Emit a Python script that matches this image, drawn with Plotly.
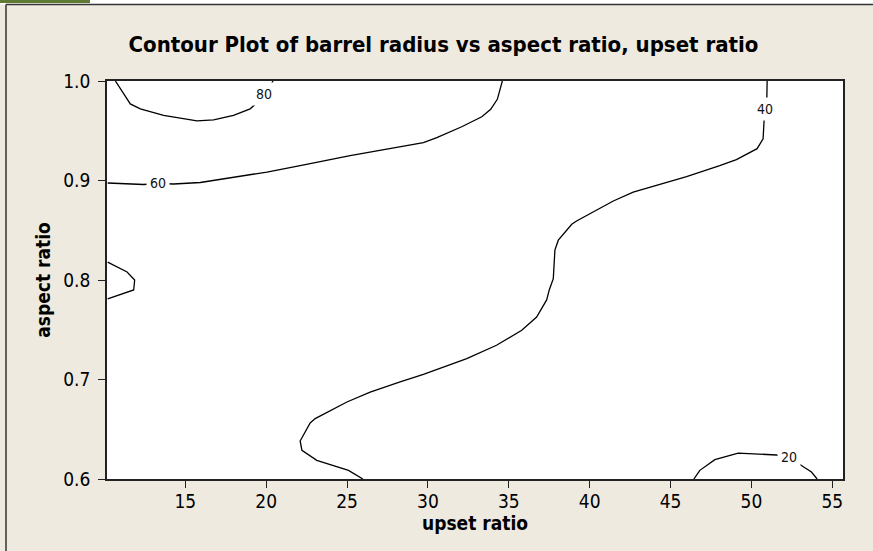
import plotly.graph_objects as go

# contour lines (upset ratio, aspect ratio)
c80_x = [10.68, 11.60, 12.22, 13.66, 15.72, 16.75, 17.98, 19.01, 19.43, 19.84, 20.29, 20.42]
c80_y = [1.000, 0.977, 0.972, 0.9655, 0.960, 0.961, 0.9655, 0.972, 0.978, 0.987, 0.9957, 1.000]

c60_x = [10.20, 12.42, 13.30, 14.28, 15.93, 17.98, 20.05, 22.10, 25.19, 29.72, 30.55, 32.09, 33.33, 33.88, 34.29, 34.60]
c60_y = [0.8975, 0.896, 0.897, 0.8965, 0.898, 0.903, 0.9085, 0.915, 0.925, 0.938, 0.943, 0.954, 0.964, 0.9716, 0.9816, 1.000]

c60b_x = [10.20, 11.40, 11.87, 11.81, 10.20]
c60b_y = [0.818, 0.808, 0.800, 0.790, 0.781]

c40_x = [50.97, 50.95, 50.82, 50.78, 50.72, 50.35, 49.07, 48.04, 45.99, 42.69, 41.46, 39.19, 38.89,
         38.06, 37.85, 37.75, 37.50, 37.34, 36.72, 35.80, 34.24, 32.40, 30.34, 29.72, 28.28, 26.43,
         24.99, 23.03, 22.72, 22.10, 22.21, 23.13, 25.09, 25.98]
c40_y = [1.000, 0.9806, 0.9715, 0.963, 0.942, 0.932, 0.921, 0.915, 0.904, 0.8884, 0.8794, 0.8593, 0.856,
         0.840, 0.830, 0.8014, 0.790, 0.780, 0.7628, 0.7495, 0.7344, 0.721, 0.7083, 0.7052, 0.6975, 0.6874,
         0.6774, 0.6607, 0.6563, 0.6382, 0.6289, 0.6188, 0.6087, 0.600]

c20_x = [46.44, 46.81, 47.74, 49.18, 51.55, 52.33, 53.23, 53.71, 54.06]
c20_y = [0.600, 0.6087, 0.6195, 0.6261, 0.6241, 0.6221, 0.612, 0.607, 0.600]

label_text = ["80", "60", "40", "20"]
label_x = [19.84, 13.30, 50.82, 52.33]
label_y = [0.987, 0.897, 0.9715, 0.6221]

x_ticks = [15, 20, 25, 30, 35, 40, 45, 50, 55]
y_ticks = [0.6, 0.7, 0.8, 0.9, 1.0]

BEIGE = "#EEEAE0"
FONT = "DejaVu Sans Condensed"

fig = go.Figure()
for xs, ys in [(c80_x, c80_y), (c60_x, c60_y), (c60b_x, c60b_y), (c40_x, c40_y), (c20_x, c20_y)]:
    fig.add_trace(go.Scatter(x=xs, y=ys, mode="lines", line=dict(color="black", width=1.3),
                             hoverinfo="skip", showlegend=False))

# white box behind each label cuts the line like Minitab does
for t, lx, ly in zip(label_text, label_x, label_y):
    fig.add_annotation(x=lx, y=ly, text=t, showarrow=False, bgcolor="white", borderpad=3,
                       font=dict(family=FONT, size=14, color="#111"))

# page frame (cropped screenshot: only left and top edge visible)
W, H, L, T, PW, PH = 873, 551, 107, 81, 736, 398
px = lambda v: (v - L) / PW
py = lambda v: (T + PH - v) / PH
fig.add_shape(type="rect", xref="paper", yref="paper", x0=px(0), x1=px(W), y0=py(4.5), y1=py(0),
              fillcolor="white", line_width=0, layer="below")
fig.add_shape(type="rect", xref="paper", yref="paper", x0=px(0), x1=px(90), y0=py(3), y1=py(0),
              fillcolor="#5E7A32", line_width=0, layer="below")
fig.add_shape(type="line", xref="paper", yref="paper", x0=px(6), x1=px(W), y0=py(4.5), y1=py(4.5),
              line=dict(color="#333", width=1.5))
fig.add_shape(type="line", xref="paper", yref="paper", x0=px(6), x1=px(6), y0=py(4.5), y1=py(H),
              line=dict(color="#333", width=1.5))

fig.update_layout(
    width=W, height=H,
    margin=dict(l=L, r=W - L - PW, t=T, b=H - T - PH),
    paper_bgcolor=BEIGE, plot_bgcolor="white",
    title=dict(text="<b>Contour Plot of barrel radius vs aspect ratio, upset ratio</b>",
               x=0.508, xanchor="center", y=0.92, yanchor="middle",
               font=dict(family=FONT, size=22, color="black")),
    font=dict(family=FONT, color="black"),
)
fig.update_xaxes(range=[10.16, 55.66], tickvals=x_ticks, ticks="outside", ticklen=7, tickwidth=1.3,
                 tickcolor="#222", showline=True, linecolor="#222", linewidth=1.5, mirror=True,
                 showgrid=False, zeroline=False, tickfont=dict(size=19), ticklabelstandoff=-3,
                 title=dict(text="<b>upset ratio</b>", font=dict(size=19), standoff=1))
fig.update_yaxes(range=[0.6, 1.0], tickvals=y_ticks, tickformat=".1f", ticks="outside", ticklen=7,
                 tickwidth=1.3, tickcolor="#222", showline=True, linecolor="#222", linewidth=1.5,
                 mirror=True, showgrid=False, zeroline=False, tickfont=dict(size=19),
                 ticklabelstandoff=4,
                 title=dict(text="<b>aspect ratio</b>", font=dict(size=19), standoff=8))

fig.write_html("out.html", config={"displayModeBar": False},
               post_script="document.body.style.margin = '0';")
